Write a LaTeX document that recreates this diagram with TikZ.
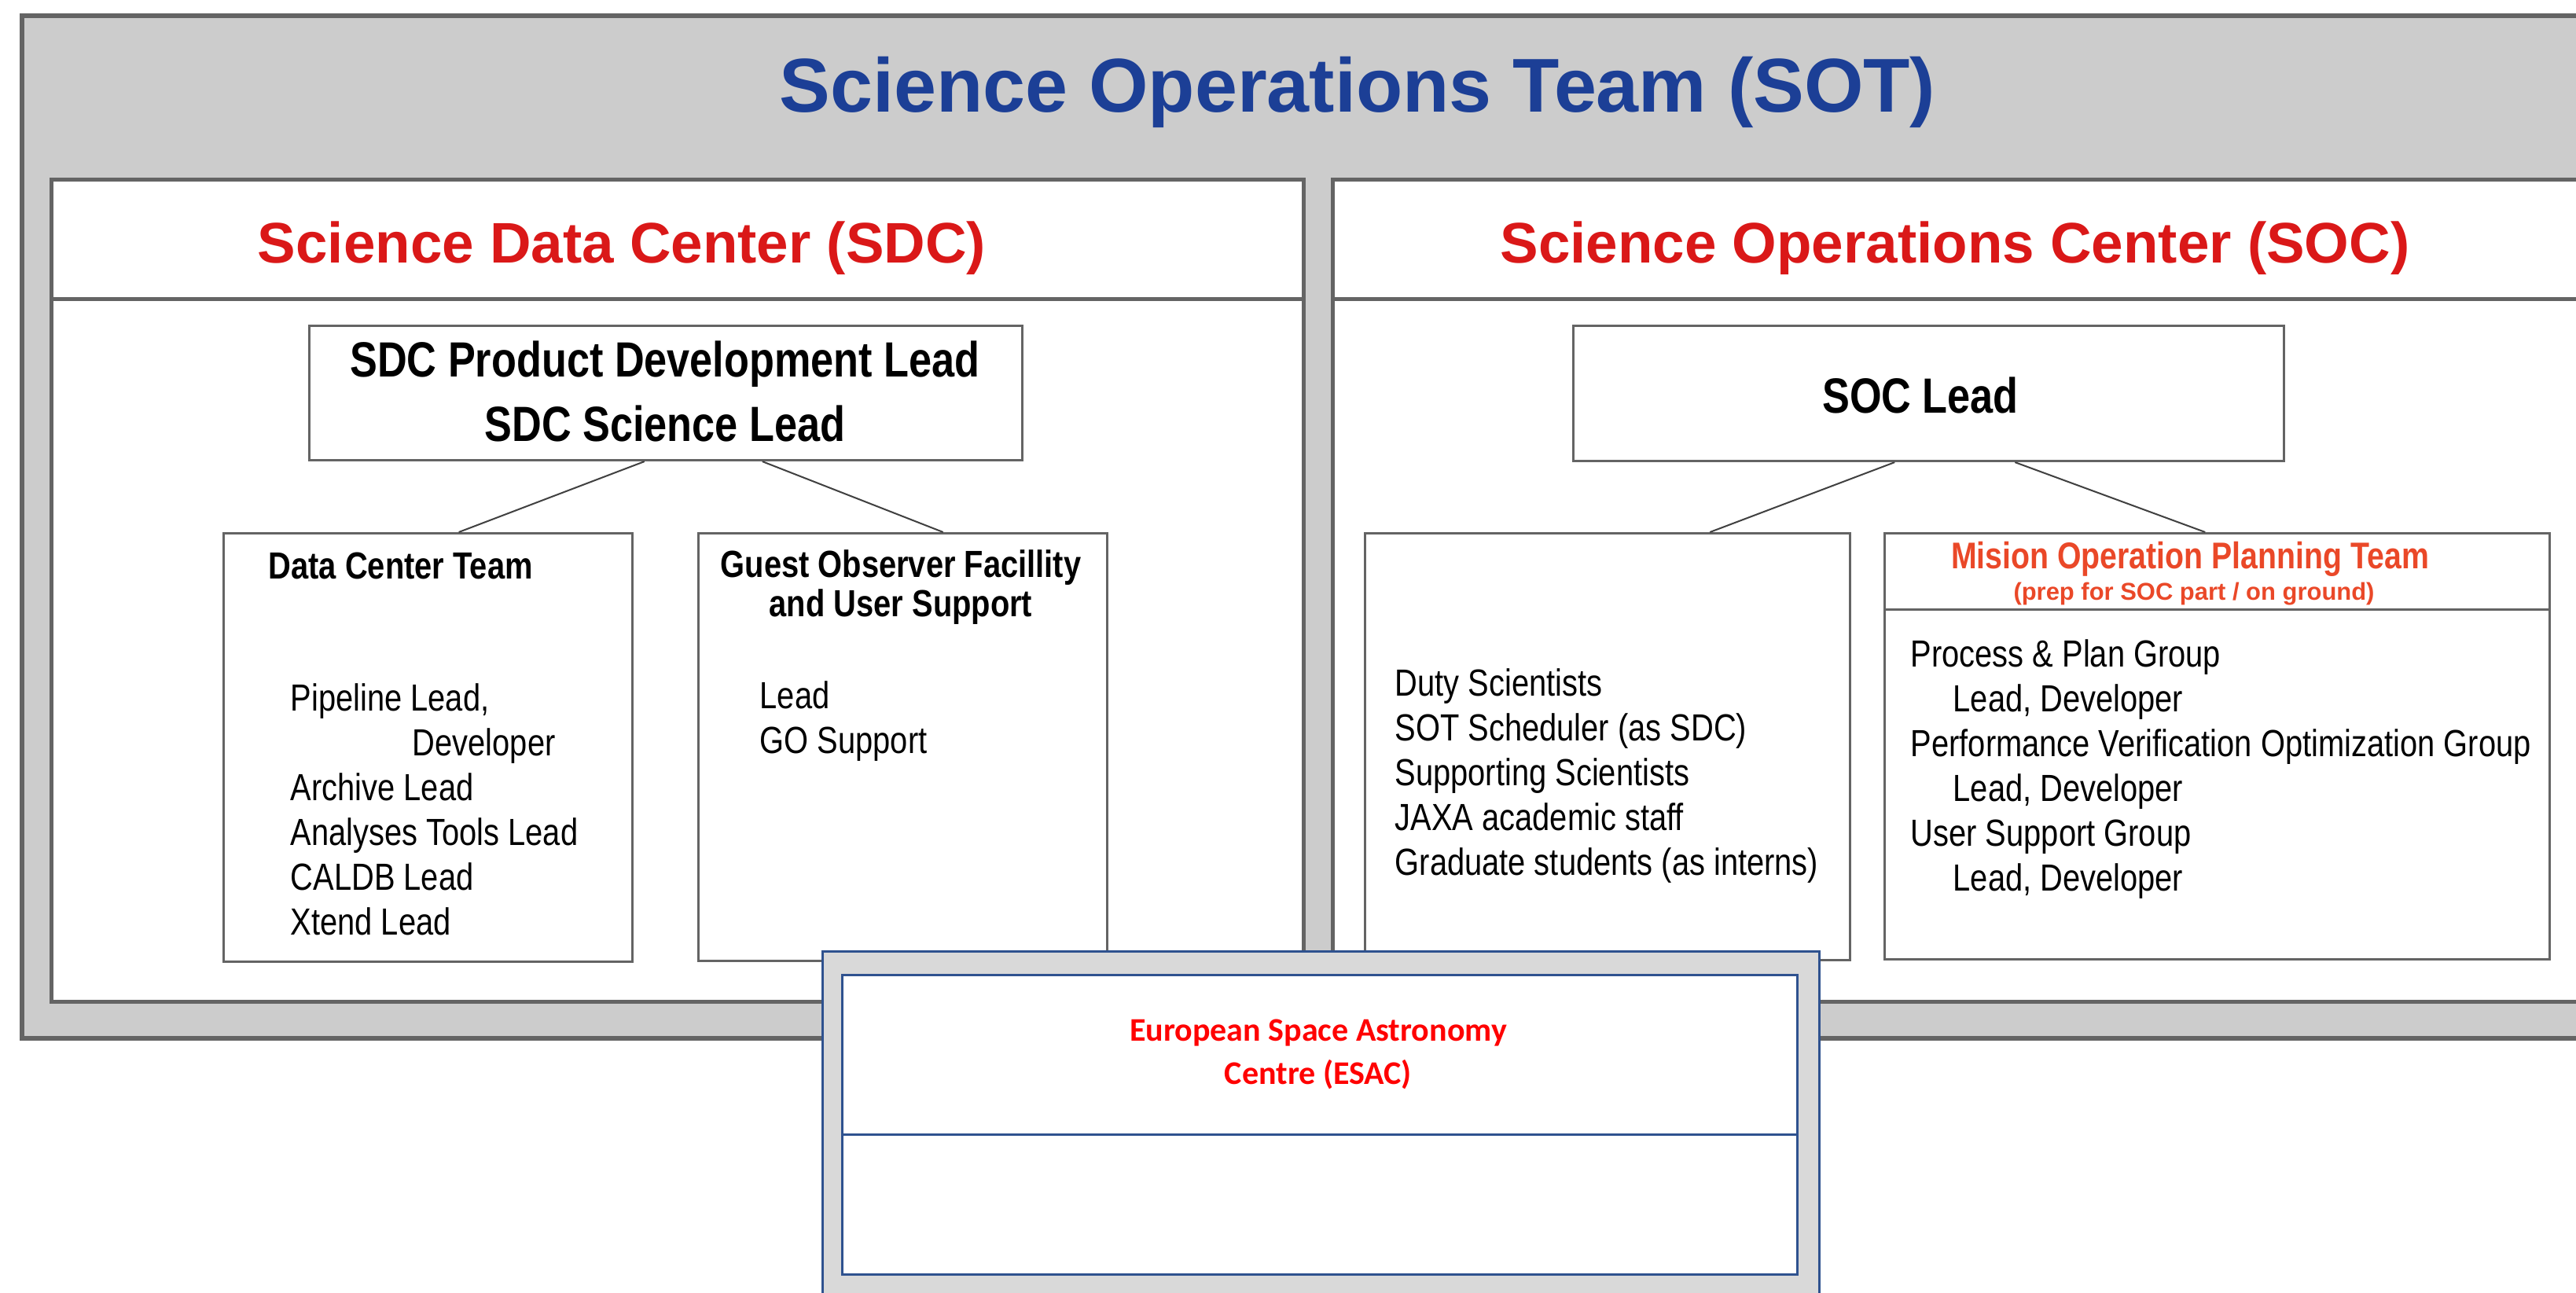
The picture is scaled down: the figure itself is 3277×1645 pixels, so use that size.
\documentclass[tikz,border=0pt]{standalone}
\usepackage{fontspec}
\setmainfont{Liberation Sans}
\newfontfamily\narrowfont{Liberation Sans}[FakeStretch=0.83]
\newfontfamily\esacfont{Carlito}
\usepackage{xcolor}
\definecolor{sotblue}{RGB}{28,63,150}
\definecolor{sdcred}{RGB}{218,24,24}
\definecolor{moptred}{RGB}{234,72,40}
\definecolor{esacblue}{RGB}{47,82,143}
\definecolor{framegray}{RGB}{100,100,100}
\definecolor{sotgray}{RGB}{204,204,204}
\definecolor{esacgray}{RGB}{217,217,217}
\tikzset{
  sectionbox/.style={draw=framegray, line width=0.05cm, fill=white, rectangle, inner sep=0, anchor=north west},
  teambox/.style={draw=framegray, line width=0.03cm, fill=white, rectangle, inner sep=0, anchor=north west},
  esacbox/.style={draw=esacblue, line width=0.03cm, rectangle, inner sep=0, anchor=north west},
  headtext/.style={font={\fontsize{20.7pt}{25pt}\selectfont\bfseries}, text=sdcred, anchor=base, inner sep=0},
  leadtext/.style={font={\narrowfont\fontsize{17.9pt}{23.3pt}\selectfont\bfseries}, align=center, anchor=base, inner sep=0},
  teamtitle/.style={font={\narrowfont\fontsize{13.66pt}{13.94pt}\selectfont\bfseries}, align=center, inner sep=0},
  bodytext/.style={font={\narrowfont\fontsize{13.66pt}{16.2pt}\selectfont}, align=left, anchor=base west, inner sep=0},
  link/.style={draw=black!75, line width=0.02cm}
}

\begin{document}
\begin{tikzpicture}[x=0.01cm, y=-0.01cm]
\useasboundingbox (0,0) rectangle (3277,1645);
\clip (0,0) rectangle (3277,1645);

% Nodes (multi-line texts sit on their last baseline)
\node[draw=framegray, line width=0.06cm, fill=sotgray, rectangle, inner sep=0, anchor=north west,
      minimum width=33cm, minimum height=13cm] (sot) at (25,17) {};
\node[anchor=base, inner sep=0, text=sotblue, font={\fontsize{27.6pt}{33pt}\selectfont\bfseries}] (sottitle) at (1727,142) {Science Operations Team (SOT)};

\node[sectionbox, minimum width=15.92cm, minimum height=10.45cm] (sdc) at (63,226) {};
\node[sectionbox, minimum width=15.92cm, minimum height=1.52cm] (sdchead) at (63,226) {};
\node[headtext] (sdctitle) at (791,334) {Science Data Center (SDC)};

\node[sectionbox, minimum width=16cm, minimum height=10.45cm] (soc) at (1693,226) {};
\node[sectionbox, minimum width=16cm, minimum height=1.52cm] (sochead) at (1693,226) {};
\node[headtext] (soctitle) at (2487,334) {Science Operations Center (SOC)};

\node[teambox, minimum width=9.06cm, minimum height=1.71cm] (sdclead) at (392,413) {};
\node[leadtext] (sdcleadtext) at (846,561) {SDC Product Development Lead\\SDC Science Lead};

\node[teambox, minimum width=5.2cm, minimum height=5.45cm] (dct) at (283,677) {};
\node[teamtitle, anchor=base west] (dcttitle) at (341,736) {Data Center Team};
\node[bodytext] (dctlist) at (369,1189) {Pipeline Lead,\\\hspace*{1.55cm}Developer\\Archive Lead\\Analyses Tools Lead\\CALDB Lead\\Xtend Lead};

\node[teambox, minimum width=5.2cm, minimum height=5.44cm] (gof) at (887,677) {};
\node[teamtitle, anchor=base] (goftitle) at (1146,784) {Guest Observer Facillity\\and User Support};
\node[bodytext] (goflist) at (966,958) {Lead\\GO Support};

\node[teambox, minimum width=9.03cm, minimum height=1.72cm] (soclead) at (2000,413) {};
\node[leadtext] (socleadtext) at (2443,525) {SOC Lead};

\node[teambox, minimum width=6.17cm, minimum height=5.43cm] (socstaff) at (1735,677) {};
\node[bodytext] (stafflist) at (1774,1113) {Duty Scientists\\SOT Scheduler (as SDC)\\Supporting Scientists\\JAXA academic staff\\Graduate students (as interns)};

\node[teambox, minimum width=8.45cm, minimum height=5.42cm] (mopt) at (2396,677) {};
\node[teambox, minimum width=8.45cm, minimum height=0.97cm] (mopthead) at (2396,677) {};
\node[teamtitle, anchor=base, text=moptred, font={\narrowfont\fontsize{13.45pt}{14pt}\selectfont\bfseries}] (mopttitle) at (2786,723) {Mision Operation Planning Team};
\node[anchor=base, inner sep=0, text=moptred, font={\fontsize{8.8pt}{10pt}\selectfont\bfseries}] (moptnote) at (2791,763) {(prep for SOC part / on ground)};
\node[bodytext] (moptlist) at (2430,1133) {Process \& Plan Group\\\hspace*{0.54cm}Lead, Developer\\Performance Verification Optimization Group\\\hspace*{0.54cm}Lead, Developer\\User Support Group\\\hspace*{0.54cm}Lead, Developer};

% Connections
\draw[link] ([xshift=-0.27cm]sdclead.south) -- ([xshift=0.39cm]dct.north);
\draw[link] ([xshift=1.23cm]sdclead.south) -- ([xshift=0.51cm]gof.north);
\draw[link] ([xshift=-0.43cm]soclead.south) -- ([xshift=1.3cm]socstaff.north);
\draw[link] ([xshift=1.1cm]soclead.south) -- ([xshift=-0.15cm]mopt.north);

% ESAC
\node[esacbox, fill=esacgray, minimum width=12.67cm, minimum height=5cm] (esac) at (1045,1209) {};
\node[esacbox, fill=white, minimum width=12.14cm, minimum height=3.81cm] (esacin) at (1070,1239) {};
\node[esacbox, fill=white, minimum width=12.14cm, minimum height=2.03cm] (esachead) at (1070,1239) {};
\node[anchor=base, align=center, inner sep=0, text=red, font={\esacfont\fontsize{11.95pt}{15.4pt}\selectfont\bfseries}] (esactitle) at (1677,1379) {European Space Astronomy\\Centre (ESAC)};

\end{tikzpicture}
\end{document}
